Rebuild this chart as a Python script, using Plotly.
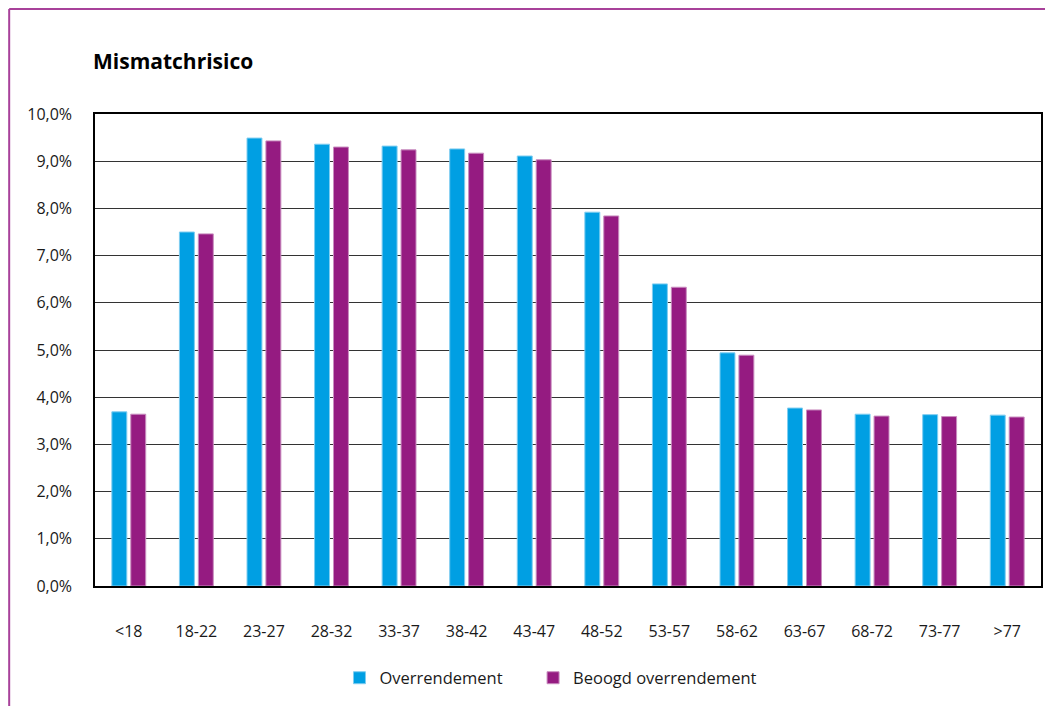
import plotly.graph_objects as go

categories = ["<18", "18-22", "23-27", "28-32", "33-37", "38-42", "43-47",
              "48-52", "53-57", "58-62", "63-67", "68-72", "73-77", ">77"]
overrendement = [3.69, 7.50, 9.49, 9.36, 9.32, 9.26, 9.11, 7.92, 6.40, 4.94, 3.77, 3.64, 3.63, 3.62]
beoogd = [3.64, 7.46, 9.43, 9.30, 9.24, 9.17, 9.03, 7.84, 6.33, 4.89, 3.73, 3.60, 3.59, 3.58]
y_ticks = [0, 1, 2, 3, 4, 5, 6, 7, 8, 9, 10]
y_ticktext = [f"{v:.1f}".replace(".", ",") + "%" for v in y_ticks]

OFF = 8  # page body margin
W, H = 1053 - OFF, 706 - OFF
L, R, T, B = 95 - OFF, 10, 114 - OFF, 120
pw, ph = W - L - R, H - T - B

def px(x):
    return (x - OFF - L) / pw

def py(y):
    return (H - B - (y - OFF)) / ph

FONT = "Open Sans"

fig = go.Figure()
fig.add_trace(go.Bar(x=categories, y=overrendement, name="Overrendement", legend="legend",
                     marker=dict(color="#009fe3", line=dict(color="#7fcdf0", width=1))))
fig.add_trace(go.Bar(x=categories, y=beoogd, name="Beoogd overrendement", legend="legend2",
                     marker=dict(color="#951b81", line=dict(color="#c98dbf", width=1))))

leg_font = dict(family=FONT, size=16.5, color="#1a1a1a")
SYM_OFF = 12
fig.update_layout(
    width=W, height=H,
    margin=dict(l=L, r=R, t=T, b=B),
    paper_bgcolor="white", plot_bgcolor="white",
    barmode="group", bargap=0.44, bargroupgap=0.21,
    font=dict(family=FONT, size=16, color="#1a1a1a"),
    title=dict(text="<b>Mismatchrisico</b>", x=(93 - OFF) / W, xref="container", xanchor="left",
               y=1 - (62 - OFF) / H, yref="container", yanchor="middle",
               font=dict(family=FONT, size=21, color="black")),
    legend=dict(orientation="h", x=px(352 - SYM_OFF), xanchor="left", y=py(678), yanchor="middle",
                font=leg_font, itemwidth=30),
    legend2=dict(orientation="h", x=px(546 - SYM_OFF), xanchor="left", y=py(678), yanchor="middle",
                 font=leg_font, itemwidth=30),
    showlegend=True,
)
fig.update_yaxes(range=[0, 10], tickvals=y_ticks, ticktext=y_ticktext,
                 showgrid=True, gridcolor="#333333", gridwidth=1,
                 showline=True, linecolor="black", linewidth=1.5, mirror=True,
                 zeroline=False, ticks="", ticklabelstandoff=18)
fig.update_xaxes(showline=True, linecolor="black", linewidth=1.5, mirror=True,
                 ticks="", ticklabelstandoff=30)

border = "#a8419a"
fig.add_shape(type="line", xref="paper", yref="paper", x0=px(9), x1=px(9), y0=py(9), y1=py(720),
              line=dict(color=border, width=2))
fig.add_shape(type="line", xref="paper", yref="paper", x0=px(9), x1=px(1060), y0=py(9), y1=py(9),
              line=dict(color=border, width=2))

fig.write_html("out.html")
